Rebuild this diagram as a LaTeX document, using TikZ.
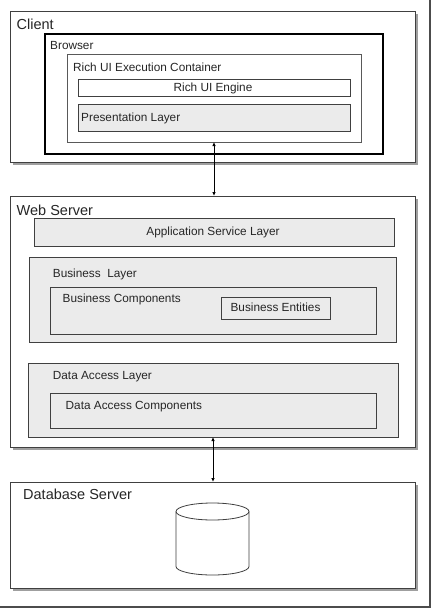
\documentclass[tikz,border=0pt]{standalone}
\usepackage{fontspec}
\setmainfont{Liberation Sans}
\usetikzlibrary{shadows,arrows.meta}
\definecolor{boxgray}{HTML}{EBEBEB}
\definecolor{edge}{HTML}{404040}
\definecolor{txt}{HTML}{262626}
\tikzset{
  x=1pt,y=-1pt,
  bigbox/.style={draw=edge, line width=0.9pt, fill=white, inner sep=0pt, outer sep=0pt, anchor=north west,
    drop shadow={shadow xshift=3pt, shadow yshift=-3pt, fill=gray!75, opacity=1}},
  graybox/.style={draw=edge, line width=0.7pt, fill=boxgray, inner sep=0pt, outer sep=0pt, anchor=north west},
  whitebox/.style={draw=edge, line width=0.7pt, fill=white, inner sep=0pt, outer sep=0pt, anchor=north west},
  biglabel/.style={anchor=base west, inner sep=0pt, text=txt, font=\fontsize{14.5}{16}\selectfont},
  lbl/.style={anchor=base west, inner sep=0pt, text=txt, font=\fontsize{11.8}{13}\selectfont},
  clbl/.style={anchor=base, inner sep=0pt, text=txt, font=\fontsize{11.8}{13}\selectfont},
  conn/.style={line width=0.8pt, {Latex[length=4pt,width=3.5pt]}-{Latex[length=4pt,width=3.5pt]}},
}
\begin{document}
\begin{tikzpicture}
\useasboundingbox (0,0) rectangle (433,610);
% outer frame
\coordinate (ftr) at (430,0);
\coordinate (fbr) at (430,607);
\coordinate (fbl) at (0,607);
\draw[gray!60!black, line width=1.5pt] (ftr) -- (fbr) -- (fbl);

% Client
\node[bigbox, minimum width=405, minimum height=151] (client) at (10,11) {};
\node[biglabel] (clientl) at (16.5,30) {Client};
\node[draw=black, line width=2pt, fill=white, inner sep=0pt, anchor=north west, minimum width=338, minimum height=120] (browser) at (44,33) {};
\node[lbl] (browserl) at (50,49.5) {Browser};
\node[whitebox, draw=gray!70!black, minimum width=294, minimum height=88] (ruc) at (67,54) {};
\node[lbl] (rucl) at (73,71) {Rich UI Execution Container};
\node[whitebox, minimum width=272, minimum height=17] (engine) at (78,79) {};
\node[clbl] (enginel) at (213,91) {Rich UI Engine};
\node[graybox, minimum width=272, minimum height=27] (pres) at (78,104) {};
\node[lbl] (presl) at (81,121) {Presentation Layer};

% Web Server
\node[bigbox, minimum width=405, minimum height=251] (web) at (10,196) {};
\node[biglabel] (webl) at (16.5,215.7) {Web Server};
\node[graybox, minimum width=360, minimum height=28] (asl) at (34,218) {};
\node[clbl] (asll) at (213,235.7) {Application Service Layer};
\node[graybox, minimum width=367, minimum height=85] (bl) at (29,257) {};
\node[lbl] (bll) at (52.7,277) {Business\ \ Layer};
\node[graybox, minimum width=326, minimum height=47] (bc) at (50,287) {};
\node[lbl] (bcl) at (62.5,302.7) {Business Components};
\node[graybox, minimum width=109, minimum height=22, line width=0.9pt] (be) at (221,297) {};
\node[clbl] (bel) at (275.5,311.7) {Business Entities};
\node[graybox, minimum width=370, minimum height=74] (dal) at (28,363) {};
\node[lbl] (dall) at (52.7,379) {Data Access Layer};
\node[graybox, minimum width=326, minimum height=35] (dac) at (50,393) {};
\node[lbl] (dacl) at (65.5,409.3) {Data Access Components};

% Database Server
\node[bigbox, minimum width=405, minimum height=106] (db) at (10,482) {};
\node[biglabel] (dbl) at (23,499) {Database Server};
% cylinder
\coordinate (cyl) at (212.5,511.5);
\draw[edge, line width=0.8pt, fill=white]
  (176,511.5) -- (176,566.5) arc[start angle=180, end angle=360, x radius=36.5, y radius=-8.5]
  -- (249,511.5);
\draw[edge, line width=0.8pt, fill=white] (cyl) ellipse[x radius=36.5, y radius=8.5];

% connectors
\draw[conn] (ruc.south) -- (ruc.south |- web.north);
\draw[conn] (dal.south) -- (dal.south |- db.north);
\end{tikzpicture}
\end{document}
